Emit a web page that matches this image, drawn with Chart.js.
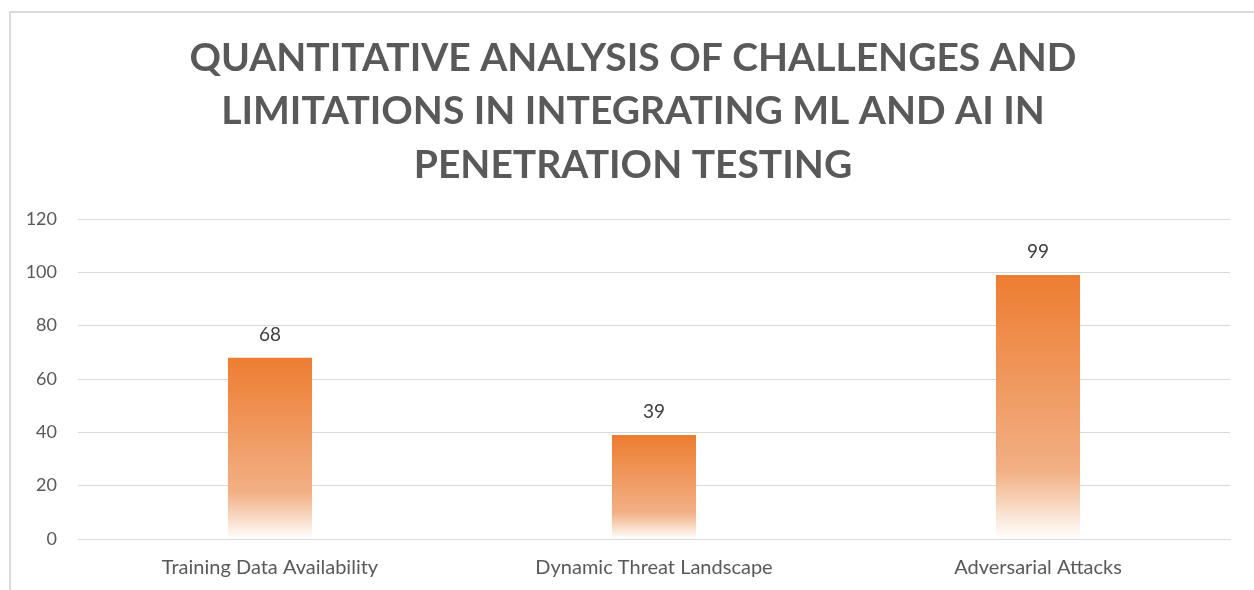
<!DOCTYPE html>
<html>
<head>
  <meta charset="utf-8">
  <title>Challenges and Limitations of ML and AI in Penetration Testing</title>
  <script src="https://cdn.jsdelivr.net/npm/chart.js"></script>
  <style>
    html, body { margin: 0; padding: 0; background: #fff; overflow: hidden; }
    #wrap { position: relative; width: 1254px; height: 590px; }
  </style>
</head>
<body>
<div id="wrap"><canvas id="chart" width="1254" height="590"></canvas></div>
<script>
// values
const categories = ['Training Data Availability', 'Dynamic Threat Landscape', 'Adversarial Attacks'];
const scores = [68, 39, 99];
const titleLines = ['QUANTITATIVE ANALYSIS OF CHALLENGES AND', 'LIMITATIONS IN INTEGRATING ML AND AI IN', 'PENETRATION TESTING'];

const FONT = 'Lato, "Open Sans", sans-serif';
Chart.defaults.font.family = FONT;
Chart.defaults.color = '#595959';

// orange fading to white towards the base, per bar
function barFill(ctx) {
  const chart = ctx.chart;
  if (!chart.chartArea) return '#ED7D31';
  const y = chart.scales.y;
  const top = y.getPixelForValue(ctx.raw);
  const base = y.getPixelForValue(0);
  const g = chart.ctx.createLinearGradient(0, top, 0, base);
  g.addColorStop(0, '#ED7D31');
  g.addColorStop(0.74, '#F2AF84');
  g.addColorStop(0.84, '#F6CDB0');
  g.addColorStop(1, '#FFFFFF');
  return g;
}

// chart frame + the three-line title (title centred on the frame, not the plot)
const frame = {
  id: 'frame',
  beforeDraw(chart) {
    const c = chart.ctx;
    c.save();
    c.strokeStyle = '#D9D9D9';
    c.lineWidth = 2;
    c.strokeRect(10, 12, 1400, 800);
    c.font = 'bold 39px ' + FONT;
    c.fillStyle = '#595959';
    c.textAlign = 'center';
    c.textBaseline = 'middle';
    titleLines.forEach((t, i) => c.fillText(t, 633, 58 + i * 53.5));
    c.restore();
  }
};

const valueLabels = {
  id: 'valueLabels',
  afterDatasetsDraw(chart) {
    const c = chart.ctx;
    c.save();
    c.font = '19px ' + FONT;
    c.fillStyle = '#404040';
    c.textAlign = 'center';
    c.textBaseline = 'middle';
    chart.getDatasetMeta(0).data.forEach((bar, i) => {
      c.fillText(String(scores[i]), bar.x, bar.y - 23);
    });
    c.restore();
  }
};

new Chart(document.getElementById('chart'), {
  type: 'bar',
  data: {
    labels: categories,
    datasets: [{
      data: scores,
      backgroundColor: barFill,
      borderWidth: 0,
      categoryPercentage: 1,
      barPercentage: 0.219
    }]
  },
  options: {
    responsive: false,
    animation: false,
    layout: { padding: { left: 0, right: 24, top: 219, bottom: 0 } },
    plugins: {
      legend: { display: false },
      tooltip: { enabled: false },
      title: { display: false }
    },
    scales: {
      x: {
        grid: { display: false },
        border: { color: '#D9D9D9', width: 1 },
        ticks: { color: '#595959', font: { size: 20 }, padding: 9, maxRotation: 0 },
        afterFit(s) { s.height = 51; }
      },
      y: {
        min: 0,
        max: 120,
        ticks: { stepSize: 20, color: '#595959', font: { size: 18 }, padding: 21 },
        grid: { color: '#D9D9D9', lineWidth: 1, drawTicks: false },
        border: { display: false },
        afterFit(s) { s.width = 78; }
      }
    }
  },
  plugins: [frame, valueLabels]
});
</script>
</body>
</html>
